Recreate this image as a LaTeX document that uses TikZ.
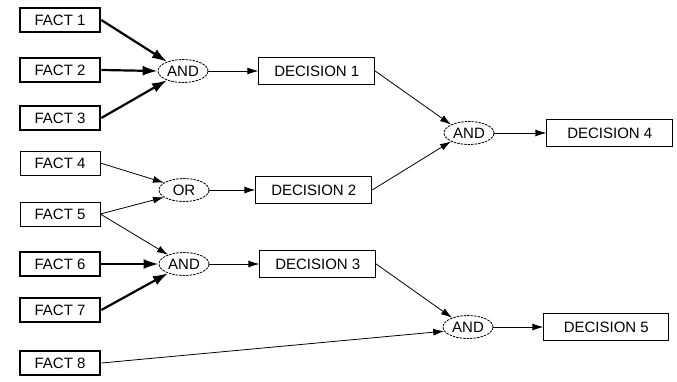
\documentclass[tikz,border=0pt]{standalone}
\usepackage{fontspec}
\setmainfont{Liberation Sans}
\usetikzlibrary{arrows.meta,shapes.geometric,positioning}

\tikzset{
	fact/.style={draw,line width=0.7pt,minimum width=80pt,minimum height=24pt,inner sep=0pt},
	strongfact/.style={fact,line width=2.6pt},
	gate/.style={ellipse,draw,dash pattern=on 2.5pt off 1pt,line width=0.8pt,minimum width=50pt,minimum height=23pt,inner sep=0pt},
	decision/.style={draw,line width=0.8pt,minimum width=116pt,minimum height=27pt,inner sep=0pt},
	weak/.style={->,line width=0.8pt},
	strong/.style={->,line width=2.2pt,>={Latex[length=15pt,width=10pt]}}
}

\begin{document}
\begin{tikzpicture}[x=1pt,y=-1pt,>={Latex[length=11pt,width=7pt]},font=\fontsize{15}{17}\selectfont,node distance=50pt]
	\useasboundingbox (0,0) rectangle (677,381);
	% facts
	\node[strongfact] (f1) at (60,20) {FACT 1};
	\node[strongfact] (f2) at (60,70) {FACT 2};
	\node[strongfact] (f3) at (60,118) {FACT 3};
	\node[fact] (f4) at (60,163) {FACT 4};
	\node[fact] (f5) at (60,214) {FACT 5};
	\node[strongfact] (f6) at (60,264) {FACT 6};
	\node[strongfact] (f7) at (60,310) {FACT 7};
	\node[strongfact] (f8) at (60,363) {FACT 8};
	% gates and decisions
	\node[gate] (and_1) at (183,71) {AND};
	\node[decision] [right=of and_1] (d_1) {DECISION 1};
	\node[gate] (or_2) at (184,190) {OR};
	\node[decision] [right=46pt of or_2] (d_2) {DECISION 2};
	\node[gate] (and_3) at (184,264) {AND};
	\node[decision] [right=50pt of and_3] (d_3) {DECISION 3};
	\node[gate] (and_4) at (469,133) {AND};
	\node[decision,minimum width=126pt] [right=52pt of and_4] (d_4) {DECISION 4};
	\node[gate] (and_5) at (468,327) {AND};
	\node[decision,minimum width=125pt] [right=50pt of and_5] (d_5) {DECISION 5};

	\draw[strong] (f1.east) -- (and_1.150);
	\draw[strong] (f2.east) -- (and_1.west);
	\draw[strong] (f3.east) -- (and_1.210);
	\draw[weak] (f4.east) -- (or_2.160);
	\draw[weak] (f5.east) -- (or_2.200);
	\draw[weak] (f5.east) -- (and_3.150);
	\draw[strong] (f6.east) -- (and_3.west);
	\draw[strong] (f7.east) -- (and_3.210);
	\draw[weak] (f8.east) -- (and_5.190);

	\draw[weak] (and_1) -- (d_1);
	\draw[weak] (or_2) -- (d_2);
	\draw[weak] (and_3) -- (d_3);
	\draw[weak] (d_1.east) -- (and_4.155);
	\draw[weak] (d_2.east) -- (and_4.205);
	\draw[weak] (d_3.east) -- (and_5.150);
	\draw[weak] (and_4) -- (d_4);
	\draw[weak] (and_5) -- (d_5);
\end{tikzpicture}
\end{document}
